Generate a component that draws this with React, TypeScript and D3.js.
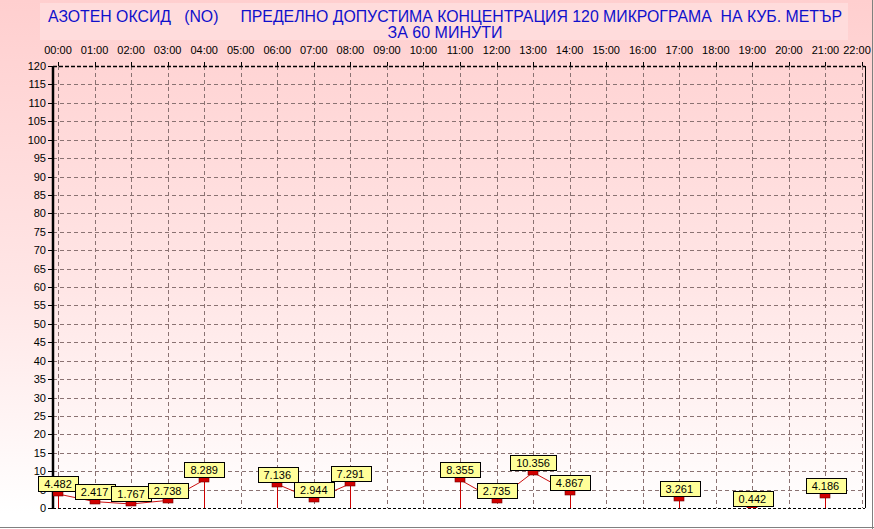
import React from "react";
import * as d3 from "d3";

const W = 874;
const H = 529;

const titleLine1 = "АЗОТЕН ОКСИД   (NO)     ПРЕДЕЛНО ДОПУСТИМА КОНЦЕНТРАЦИЯ 120 МИКРОГРАМА  НА КУБ. МЕТЪР";
const titleLine2 = "ЗА 60 МИНУТИ";

const hours = [
  "00:00", "01:00", "02:00", "03:00", "04:00", "05:00", "06:00", "07:00",
  "08:00", "09:00", "10:00", "11:00", "12:00", "13:00", "14:00", "15:00",
  "16:00", "17:00", "18:00", "19:00", "20:00", "21:00", "22:00",
];

const values: (number | null)[] = [
  4.482, 2.417, 1.767, 2.738, 8.289, null, 7.136, 2.944,
  7.291, null, null, 8.355, 2.735, 10.356, 4.867, null,
  null, 3.261, null, 0.442, null, 4.186, null,
];

const yTicks = d3.range(0, 121, 5);

export default function App() {
  const x = d3.scalePoint<string>().domain(hours).range([58, 862]);
  const y = d3.scaleLinear().domain([0, 120]).range([508, 66]);
  const left = 53;
  const right = 865;
  const top = 66;
  const bottom = 508;

  const pts = hours.map((h, i) => ({ h, v: values[i], i }));
  const line = d3
    .line<{ h: string; v: number | null }>()
    .defined((d) => d.v != null)
    .x((d) => x(d.h)!)
    .y((d) => y(d.v as number) + 2.5);

  const isEndpoint = (i: number) =>
    values[i] != null && (i === 0 || values[i - 1] == null || i === values.length - 1 || values[i + 1] == null);

  const gridColor = "#8a7272";
  const font = "Arial, 'Liberation Sans', sans-serif";

  return (
    <div style={{ position: "fixed", left: 0, top: 0, width: W, height: H }}>
      <svg width={W} height={H} style={{ display: "block" }} fontFamily={font}>
        <defs>
          <linearGradient id="bg" x1="0" y1="0" x2="0" y2="1">
            <stop offset="0" stopColor="#ffcfcf" />
            <stop offset="0.55" stopColor="#ffe6e6" />
            <stop offset="0.97" stopColor="#ffffff" />
          </linearGradient>
          <clipPath id="plotClip">
            <rect x={left} y={top - 20} width={right - left} height={bottom - top + 20} />
          </clipPath>
        </defs>
        <rect x={0} y={0} width={W} height={H} fill="url(#bg)" />
        {/* title box */}
        <rect x={40} y={3} width={808} height={37} fill="#ffdcdc" />
        <text
          x={48}
          y={22}
          fontSize={16}
          fill="#1010cc"
          textLength={794}
          lengthAdjust="spacingAndGlyphs"
          style={{ whiteSpace: "pre" }}
        >
          {titleLine1}
        </text>
        <text x={445} y={38} fontSize={16} fill="#1010cc" textAnchor="middle">
          {titleLine2}
        </text>

        {/* horizontal grid */}
        {yTicks
          .filter((t) => t > 0 && t < 120)
          .map((t) => (
            <line
              key={"hg" + t}
              x1={left}
              x2={right}
              y1={Math.round(y(t)) + 0.5}
              y2={Math.round(y(t)) + 0.5}
              stroke={gridColor}
              strokeDasharray="4,3"
            />
          ))}
        {/* vertical grid */}
        {hours.map((h) => (
          <line
            key={"vg" + h}
            x1={Math.round(x(h)!) + 0.5}
            x2={Math.round(x(h)!) + 0.5}
            y1={top}
            y2={bottom}
            stroke={gridColor}
            strokeDasharray="4,3"
          />
        ))}

        {/* frame */}
        <line x1={left} x2={right} y1={top + 0.5} y2={top + 0.5} stroke="#000" strokeDasharray="4,2" strokeWidth={1.5} />
        <line x1={left} x2={right} y1={bottom + 0.5} y2={bottom + 0.5} stroke="#000" strokeDasharray="3,2" />
        <line x1={right + 0.5} x2={right + 0.5} y1={top} y2={bottom} stroke="#000" />
        <line x1={left} x2={left} y1={top} y2={bottom + 1} stroke="#000" strokeWidth={2.5} />

        {/* left ticks & labels */}
        {yTicks.map((t) => (
          <g key={"yt" + t}>
            <line x1={48} x2={left} y1={Math.round(y(t)) + 0.5} y2={Math.round(y(t)) + 0.5} stroke="#000" />
            <text x={46} y={y(t) + 4} fontSize={11} textAnchor="end" fill="#000">
              {t}
            </text>
          </g>
        ))}

        {/* top ticks & labels */}
        {hours.map((h) => (
          <g key={"xt" + h}>
            <line x1={Math.round(x(h)!) + 0.5} x2={Math.round(x(h)!) + 0.5} y1={62} y2={top} stroke="#000" />
            <text x={Math.min(x(h)!, 857)} y={54} fontSize={11} textAnchor="middle" fill="#000">
              {h}
            </text>
          </g>
        ))}

        <g clipPath="url(#plotClip)">
          {/* drop lines */}
          {pts
            .filter((d) => isEndpoint(d.i))
            .map((d) => (
              <line
                key={"dl" + d.h}
                x1={Math.round(x(d.h)!) + 0.5}
                x2={Math.round(x(d.h)!) + 0.5}
                y1={y(d.v as number)}
                y2={bottom}
                stroke="#cc0000"
              />
            ))}

          {/* series line */}
          <path d={line(pts) || ""} fill="none" stroke="#cc1010" strokeWidth={1} />

          {/* markers */}
          {pts
            .filter((d) => d.v != null)
            .map((d) => (
              <rect
                key={"mk" + d.h}
                x={Math.round(x(d.h)!) - 5}
                y={Math.round(y(d.v as number))}
                width={10}
                height={5}
                fill="#d00000"
                stroke="#700000"
                strokeWidth={0.6}
              />
            ))}
        </g>

        {/* value labels */}
        {pts
          .filter((d) => d.v != null)
          .map((d) => {
            const label = (d.v as number).toFixed(3);
            const w = label.length * 6.1 + 9;
            const cx = x(d.h)!;
            const by = Math.min(Math.round(y(d.v as number)), bottom - 2);
            return (
              <g key={"lb" + d.h}>
                <rect
                  x={Math.round(cx - w / 2) + 0.5}
                  y={by - 15 + 0.5}
                  width={Math.round(w)}
                  height={15}
                  fill="#ffff99"
                  stroke="#000"
                  strokeWidth={1}
                />
                <text x={cx} y={by - 3} fontSize={11} textAnchor="middle" fill="#000">
                  {label}
                </text>
              </g>
            );
          })}

        {/* outer frame */}
        <line x1={0} x2={W} y1={527.5} y2={527.5} stroke="#808080" />
        <line x1={872.5} x2={872.5} y1={0} y2={H} stroke="#808080" />
      </svg>
    </div>
  );
}
